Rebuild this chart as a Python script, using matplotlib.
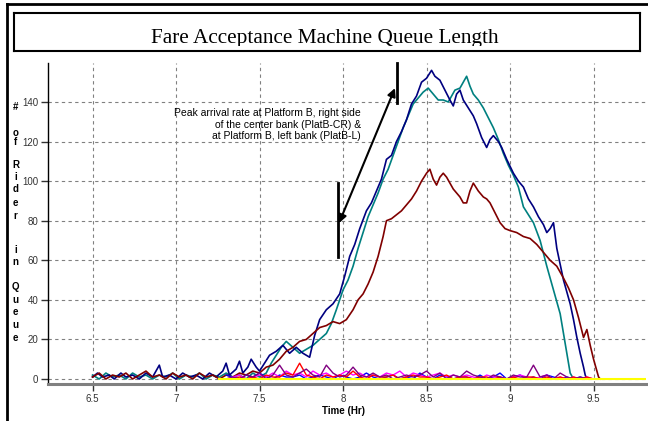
import matplotlib.pyplot as plt
from matplotlib.lines import Line2D
from matplotlib.transforms import Bbox, TransformedBbox

# Queue length (time in hours, riders in queue)
navy_t = [6.50, 6.53, 6.56, 6.60, 6.63, 6.67, 6.70, 6.74, 6.78, 6.82,
          6.86, 6.90, 6.92, 6.96, 7.00, 7.04, 7.08, 7.12, 7.16, 7.20,
          7.24, 7.28, 7.30, 7.32, 7.36, 7.38, 7.40, 7.43, 7.45, 7.48,
          7.50, 7.53, 7.56, 7.60, 7.64, 7.68, 7.72, 7.76, 7.80, 7.83,
          7.86, 7.90, 7.94, 7.98, 8.01, 8.04, 8.07, 8.10, 8.14, 8.17,
          8.20, 8.23, 8.26, 8.29, 8.32, 8.35, 8.38, 8.41, 8.44, 8.47,
          8.50, 8.53, 8.55, 8.58, 8.61, 8.64, 8.66, 8.68, 8.70, 8.72,
          8.75, 8.78, 8.80, 8.83, 8.86, 8.88, 8.90, 8.93, 8.95, 8.98,
          9.02, 9.05, 9.08, 9.11, 9.14, 9.17, 9.20, 9.22, 9.24, 9.26,
          9.28, 9.30, 9.32, 9.34, 9.36, 9.38, 9.40, 9.42, 9.44, 9.45, 9.46]
navy_q = [1, 3, 1, 2, 0, 3, 1, 2, 0, 3,
          1, 7, 1, 2, 0, 3, 1, 2, 0, 3,
          1, 4, 8, 2, 5, 9, 3, 6, 10, 6,
          4, 8, 12, 14, 17, 13, 16, 13, 11, 22,
          30, 35, 38, 43, 52, 62, 68, 76, 85, 89,
          95, 101, 111, 113, 120, 125, 131, 139, 143, 150,
          152, 156, 153, 151, 146, 141, 138, 144, 146, 141,
          137, 133, 129, 122, 117, 121, 123, 120, 117, 111,
          104, 100, 97, 91, 87, 82, 78, 74, 76, 79,
          66, 58, 50, 44, 38, 30, 21, 13, 6, 2, 0]

teal_t = [6.50, 6.54, 6.58, 6.62, 6.66, 6.70, 6.74, 6.78, 6.82, 6.86,
          6.90, 6.94, 6.98, 7.02, 7.06, 7.10, 7.14, 7.18, 7.22, 7.26,
          7.30, 7.34, 7.38, 7.42, 7.46, 7.50, 7.54, 7.57, 7.60, 7.63,
          7.66, 7.70, 7.74, 7.78, 7.82, 7.86, 7.90, 7.93, 7.96, 8.00,
          8.03, 8.06, 8.09, 8.12, 8.15, 8.18, 8.21, 8.24, 8.27, 8.30,
          8.33, 8.36, 8.39, 8.42, 8.45, 8.48, 8.51, 8.54, 8.57, 8.60,
          8.63, 8.65, 8.67, 8.70, 8.72, 8.74, 8.76, 8.78, 8.81, 8.84,
          8.87, 8.90, 8.93, 8.96, 8.99, 9.02, 9.05, 9.08, 9.11, 9.14,
          9.18, 9.22, 9.26, 9.30, 9.33, 9.36, 9.38]
teal_q = [2, 0, 3, 1, 2, 0, 3, 1, 2, 0,
          2, 1, 3, 0, 2, 1, 3, 0, 2, 1,
          3, 1, 2, 0, 3, 1, 3, 8, 12, 16,
          19, 16, 13, 15, 17, 20, 23, 28, 35, 45,
          50, 57, 66, 74, 82, 88, 94, 101, 106, 113,
          120, 127, 133, 139, 142, 145, 147, 144, 141, 141,
          140, 143, 146, 147, 150, 153, 148, 144, 141, 137,
          132, 127, 121, 114, 108, 103, 97, 87, 83, 79,
          70, 57, 45, 33, 18, 3, 0]

maroon_t = [6.50, 6.54, 6.58, 6.62, 6.66, 6.70, 6.74, 6.78, 6.82, 6.86,
            6.90, 6.94, 6.98, 7.02, 7.06, 7.10, 7.14, 7.18, 7.22, 7.26,
            7.30, 7.34, 7.38, 7.42, 7.46, 7.50, 7.54, 7.58, 7.62, 7.66,
            7.70, 7.74, 7.78, 7.82, 7.86, 7.90, 7.94, 7.98, 8.02, 8.06,
            8.09, 8.12, 8.15, 8.18, 8.21, 8.24, 8.26, 8.29, 8.32, 8.35,
            8.38, 8.41, 8.44, 8.47, 8.50, 8.52, 8.54, 8.56, 8.58, 8.60,
            8.62, 8.64, 8.66, 8.68, 8.70, 8.72, 8.74, 8.76, 8.78, 8.81,
            8.84, 8.86, 8.88, 8.91, 8.94, 8.97, 9.00, 9.04, 9.08, 9.12,
            9.16, 9.20, 9.24, 9.28, 9.32, 9.35, 9.38, 9.41, 9.44, 9.46,
            9.48, 9.50, 9.52, 9.53, 9.54]
maroon_q = [1, 3, 0, 2, 1, 3, 0, 2, 4, 1,
            2, 0, 3, 1, 2, 0, 3, 1, 2, 0,
            2, 1, 3, 2, 4, 3, 6, 7, 10, 14,
            16, 19, 20, 23, 26, 27, 29, 28, 30, 35,
            40, 43, 48, 54, 62, 72, 80, 81, 83, 85,
            88, 91, 95, 100, 104, 106, 101, 98, 102, 104,
            102, 99, 96, 94, 92, 89, 89, 95, 99, 95,
            92, 91, 89, 84, 79, 76, 75, 74, 72, 71,
            68, 64, 60, 57, 51, 46, 40, 31, 21, 25,
            17, 10, 4, 1, 0]

# small queues at the other machines
noise_t = [7.30, 7.34, 7.38, 7.42, 7.46, 7.50, 7.54, 7.58, 7.62, 7.66,
           7.70, 7.74, 7.78, 7.82, 7.86, 7.90, 7.94, 7.98, 8.02, 8.06,
           8.10, 8.14, 8.18, 8.22, 8.26, 8.30, 8.34, 8.38, 8.42, 8.46,
           8.50, 8.54, 8.58, 8.62, 8.66, 8.70, 8.74, 8.78, 8.82, 8.86,
           8.90, 8.94, 8.98, 9.02, 9.06, 9.10, 9.14, 9.18, 9.22, 9.26,
           9.30, 9.34, 9.38, 9.42, 9.46, 9.50, 9.54]
purple_q = [0, 1, 0, 2, 1, 3, 0, 2, 7, 2, 1, 3, 5, 2, 1, 7, 3, 1, 2, 6,
            2, 1, 3, 1, 2, 0, 1, 2, 1, 2, 4, 1, 3, 0, 2, 1, 4, 2, 1, 0,
            2, 1, 0, 2, 1, 1, 7, 1, 2, 0, 3, 1, 0, 1, 0, 0, 0]
magenta_q = [0, 1, 2, 0, 1, 2, 1, 3, 1, 4, 2, 3, 1, 4, 2, 3, 1, 2, 4, 2,
             3, 1, 2, 1, 3, 2, 4, 1, 3, 2, 1, 2, 3, 1, 2, 1, 2, 1, 0, 2,
             1, 1, 0, 1, 2, 1, 0, 1, 2, 0, 1, 0, 1, 0, 1, 0, 0]
red_q = [0, 0, 1, 0, 1, 0, 2, 1, 1, 3, 2, 8, 2, 1, 0, 2, 1, 2, 1, 4,
         1, 0, 2, 1, 1, 2, 0, 1, 2, 1, 1, 0, 1, 2, 0, 1, 1, 0, 1, 1,
         0, 1, 0, 1, 0, 1, 1, 0, 1, 0, 1, 0, 1, 0, 1, 0, 0]
blue_q = [2, 1, 0, 2, 1, 3, 1, 0, 2, 1, 1, 2, 0, 1, 2, 1, 0, 2, 1, 0,
          1, 3, 1, 0, 1, 2, 0, 1, 0, 3, 1, 0, 2, 1, 0, 1, 1, 0, 2, 0,
          1, 3, 0, 1, 2, 0, 1, 0, 2, 1, 0, 1, 0, 1, 0, 0, 0]
yellow_t = [7.26, 9.81]
yellow_q = [0, 0]

x_ticks = [6.5, 7, 7.5, 8, 8.5, 9, 9.5]
x_labels = ['6.5', '7', '7.5', '8', '8.5', '9', '9.5']
y_ticks = [0, 20, 40, 60, 80, 100, 120, 140]

note = ("Peak arrival rate at Platform B, right side\n"
        "of the center bank (PlatB-CR) &\n"
        "at Platform B, left bank (PlatB-L)")

W, H = 648, 421
def fx(px):
    return px / W
def fy(py):
    return 1 - py / H

fig = plt.figure(figsize=(6.48, 4.21), dpi=100)

# outer frame (left and top edges)
fig.add_artist(Line2D([fx(7), fx(7)], [fy(4), 0], color='black', lw=2))
fig.add_artist(Line2D([fx(7), 1], [fy(4), fy(4)], color='black', lw=2))

# title box, text cut off just below its baseline like the original
tax = fig.add_axes([fx(14), fy(51), fx(640) - fx(14), fy(13) - fy(51)])
tax.set_xticks([])
tax.set_yticks([])
for s in tax.spines.values():
    s.set_linewidth(1.5)
title = fig.text(fx(325), fy(43.5), 'Fare Acceptance Machine Queue Length',
                 ha='center', va='baseline', fontsize=15.3,
                 family='Liberation Serif')
title.set_clip_box(TransformedBbox(Bbox([[fx(14), fy(45.5)], [fx(640), fy(13)]]),
                                   fig.transFigure))
title.set_clip_on(True)

# main plot
ax = fig.add_axes([fx(48), fy(384), fx(646) - fx(48), fy(63) - fy(384)])
ax.plot(teal_t, teal_q, color='#008080', lw=1.2)
ax.plot(navy_t, navy_q, color='#000080', lw=1.2)
ax.plot(maroon_t, maroon_q, color='#800000', lw=1.2)
ax.plot(noise_t, blue_q, color='#0000FF', lw=1)
ax.plot(noise_t, magenta_q, color='#FF00FF', lw=1)
ax.plot(noise_t, red_q, color='#FF0000', lw=1)
ax.plot(noise_t, purple_q, color='#800080', lw=1)
ax.plot(yellow_t, yellow_q, color='#FFFF00', lw=1.5)

ax.set_xlim(6.2335, 9.814)
ax.set_ylim(-2.53, 159.7)
ax.set_xticks(x_ticks)
ax.set_xticklabels(x_labels)
ax.set_yticks(y_ticks)
ax.grid(True, color='#808080', linestyle=(0, (3, 3)), lw=0.8)
ax.set_axisbelow(True)
for side in ['top', 'right']:
    ax.spines[side].set_visible(False)
ax.spines['left'].set_color('black')
ax.spines['left'].set_linewidth(1)
ax.spines['bottom'].set_color('#808080')
ax.spines['bottom'].set_linewidth(2.2)
ax.tick_params(axis='both', labelsize=7, colors='#333333', direction='out')
ax.tick_params(axis='x', length=5, width=1, pad=2)
ax.tick_params(axis='y', length=5, width=1, pad=2)
for lab in ax.get_xticklabels() + ax.get_yticklabels():
    lab.set_family('Liberation Sans')

fig.text(fx(343), fy(411), 'Time (Hr)', ha='center', va='center',
         fontsize=7, fontweight='bold', family='Liberation Sans')

# stacked y label
ylab_chars = ['#', 'o', 'f', 'R', 'i', 'd', 'e', 'r', 'i', 'n', 'Q', 'u', 'e', 'u', 'e']
ylab_py = [107, 133, 142, 165, 177, 189, 203, 216, 250, 262, 287, 300, 312, 325, 338]
for ch, py in zip(ylab_chars, ylab_py):
    fig.text(fx(15.5), fy(py), ch, ha='center', va='center', fontsize=7,
             fontweight='bold', family='Liberation Sans')

# annotation
fig.text(fx(361), fy(124.5), note, ha='right', va='center', multialignment='right',
         fontsize=7.5, family='Liberation Sans', linespacing=1.15)
ax.annotate('', xy=(8.311, 147), xytext=(7.976, 78.8),
            arrowprops=dict(arrowstyle='<|-|>', color='black', lw=1.5,
                            mutation_scale=12, shrinkA=0, shrinkB=0))
ax.plot([8.323, 8.323], [139.5, 159.7], color='black', lw=2, clip_on=False)
ax.plot([7.970, 7.970], [61.6, 99], color='black', lw=2, clip_on=False)

fig.savefig('out.png', dpi=100)
